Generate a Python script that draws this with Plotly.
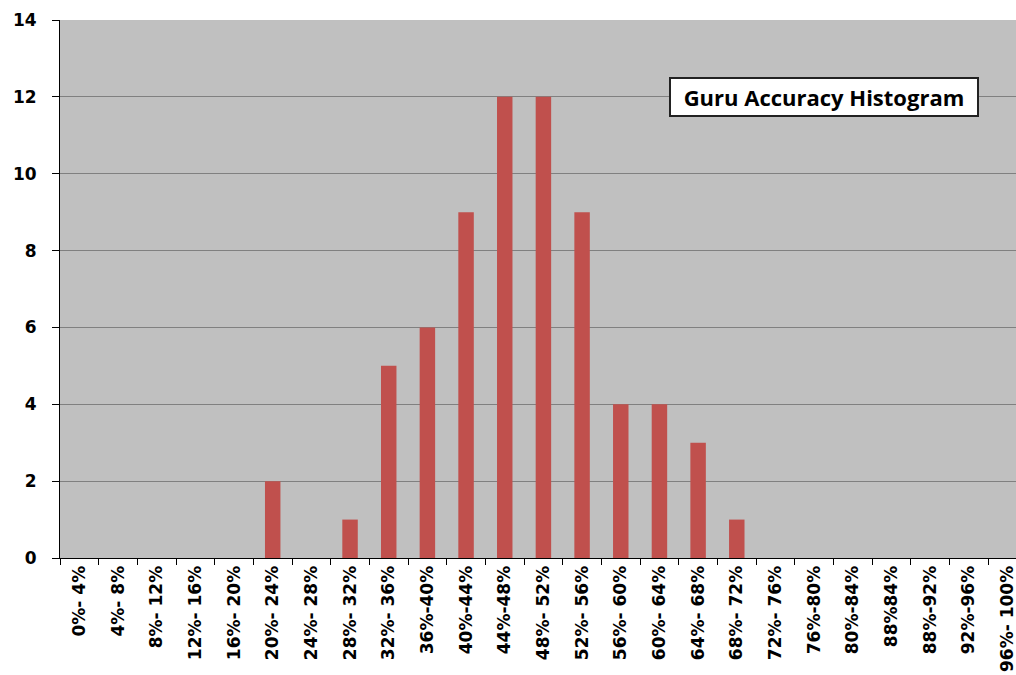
import plotly.graph_objects as go

categories = ["0%- 4%", "4%- 8%", "8%- 12%", "12%- 16%", "16%- 20%", "20%- 24%",
              "24%- 28%", "28%- 32%", "32%- 36%", "36%-40%", "40%-44%", "44%-48%",
              "48%- 52%", "52%- 56%", "56%- 60%", "60%- 64%", "64%- 68%", "68%- 72%",
              "72%- 76%", "76%-80%", "80%-84%", "88%84%", "88%-92%", "92%-96%", "96%- 100%"]
counts = [0, 0, 0, 0, 0, 2, 0, 1, 5, 6, 9, 12, 12, 9, 4, 4, 3, 1, 0, 0, 0, 0, 0, 0, 0]
y_ticks = [0, 2, 4, 6, 8, 10, 12, 14]
title_text = "Guru Accuracy Histogram"

fig = go.Figure()
fig.add_trace(go.Bar(x=categories, y=counts, marker=dict(color="#C0504D", line=dict(width=0)),
                     hoverinfo="x+y"))

fig.update_layout(
    width=1016, height=675,
    margin=dict(l=60, r=0, t=20, b=117),
    paper_bgcolor="white",
    plot_bgcolor="#C0C0C0",
    bargap=0.6,
    showlegend=False,
    font=dict(family="DejaVu Sans", color="black"),
    annotations=[dict(
        text="<b>" + title_text + "</b>",
        xref="paper", yref="paper", x=0.637, y=0.894,
        xanchor="left", yanchor="top", showarrow=False,
        font=dict(family="Open Sans", size=22, color="black"),
        bgcolor="white", bordercolor="#222222", borderwidth=2, borderpad=3,
        width=300, height=30, align="center",
    )],
)

fig.update_xaxes(
    type="category",
    range=[-0.5, 24.22],
    tickson="boundaries",
    ticks="outside", ticklen=6, tickcolor="black", tickwidth=1,
    tickangle=-90,
    tickfont=dict(family="DejaVu Sans", size=17, color="black", weight="bold"),
    showline=True, linecolor="black", linewidth=1,
    showgrid=False,
    automargin=False,
    fixedrange=True,
)
fig.update_yaxes(
    range=[0, 14],
    tickvals=y_ticks,
    ticks="outside", ticklen=7, tickcolor="black", tickwidth=1,
    ticklabelstandoff=12,
    tickfont=dict(family="DejaVu Sans", size=17, color="black", weight="bold"),
    showline=True, linecolor="black", linewidth=1,
    showgrid=True, gridcolor="#808080", gridwidth=1,
    zeroline=False,
    automargin=False,
    fixedrange=True,
)

fig.write_html(
    "out.html",
    config={"displayModeBar": False},
    post_script="document.body.style.margin='0';document.body.style.overflow='hidden';",
)
